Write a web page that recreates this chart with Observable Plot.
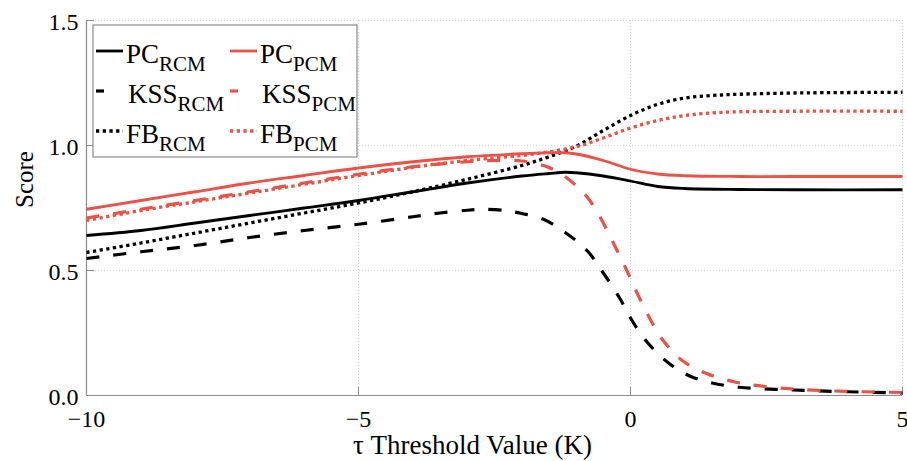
<!DOCTYPE html>
<html><head><meta charset="utf-8">
<script src="https://cdn.jsdelivr.net/npm/d3@7"></script>
<script src="https://cdn.jsdelivr.net/npm/@observablehq/plot@0.6"></script>
<style>body{margin:0;background:#fff}#chart{position:relative;width:907px;height:461px}</style>
</head><body><div id="chart"></div>
<script>
// ---- data ----
const pcRcmX  = [-10,-9,-8,-7,-6,-5,-4,-3,-2,-1.5,-1.2,-1,-0.5,0,0.5,1,2,3,5];
const pcRcmY  = [0.64,0.66,0.69,0.72,0.75,0.78,0.815,0.85,0.878,0.888,0.893,0.891,0.878,0.858,0.836,0.828,0.824,0.823,0.823];
const pcPcmX  = [-10,-9,-8,-7,-6,-5,-4,-3,-2,-1.5,-1.2,-1,-0.5,0,0.5,1,2,3,5];
const pcPcmY  = [0.745,0.78,0.815,0.85,0.88,0.91,0.935,0.955,0.967,0.971,0.971,0.966,0.94,0.905,0.886,0.879,0.876,0.876,0.876];
const kssRcmX = [-10,-9,-8,-7,-6,-5,-4,-3.5,-3,-2.7,-2.3,-2,-1.6,-1.2,-0.8,-0.5,-0.2,0,0.3,0.7,1.1,1.5,2,3,4,5];
const kssRcmY = [0.548,0.575,0.6,0.632,0.66,0.685,0.715,0.73,0.741,0.745,0.74,0.728,0.705,0.652,0.58,0.49,0.39,0.31,0.215,0.13,0.077,0.05,0.033,0.022,0.015,0.01];
const kssPcmX = [-10,-9,-8,-7,-6,-5,-4,-3,-2.5,-2,-1.6,-1.3,-1,-0.8,-0.6,-0.35,-0.1,0.1,0.35,0.6,0.95,1.4,1.9,2.5,3.5,5];
const kssPcmY = [0.71,0.745,0.78,0.815,0.85,0.885,0.915,0.935,0.94,0.938,0.92,0.89,0.84,0.795,0.73,0.625,0.515,0.42,0.31,0.22,0.14,0.088,0.055,0.035,0.02,0.012];
const fbRcmX  = [-10,-9,-8,-7,-6,-5,-4,-3,-2,-1.5,-1,-0.5,0,0.5,1,1.5,2,3,5];
const fbRcmY  = [0.572,0.61,0.65,0.69,0.73,0.77,0.815,0.865,0.92,0.955,0.997,1.06,1.12,1.165,1.19,1.2,1.205,1.21,1.213];
const fbPcmX  = [-10,-9,-8,-7,-6,-5,-4,-3,-2,-1.5,-1,-0.5,0,0.5,1,1.5,2,3,5];
const fbPcmY  = [0.70,0.74,0.775,0.81,0.845,0.88,0.913,0.94,0.96,0.975,0.995,1.03,1.07,1.1,1.12,1.13,1.135,1.137,1.137];

const metrics = ["PC","KSS","FB"];
const models  = ["RCM","PCM"];
const xTicks  = [-10,-5,0,5];
const yTicks  = [0,0.5,1.0,1.5];
const xLabel  = "τ Threshold Value (K)";
const yLabel  = "Score";

// ---- styles ----
const colors = {RCM: "#000000", PCM: "#ec5146"};
const dashes = {PC: null, KSS: "13,14", FB: "3.3,3.4"};
const widths = {PC: 2.8, KSS: 3.2, FB: 3.3};
const gray = "#8c8c8c";
const font = "Liberation Serif";

const seriesData = {
  PC_RCM: [pcRcmX, pcRcmY], PC_PCM: [pcPcmX, pcPcmY],
  KSS_RCM: [kssRcmX, kssRcmY], KSS_PCM: [kssPcmX, kssPcmY],
  FB_RCM: [fbRcmX, fbRcmY], FB_PCM: [fbPcmX, fbPcmY]
};

const lineMarks = [];
for (const model of models) for (const metric of metrics) {
  const [xs, ys] = seriesData[metric + "_" + model];
  const rows = xs.map((x, i) => ({x, y: ys[i]}));
  lineMarks.push(Plot.line(rows, {
    x: "x", y: "y", curve: "catmull-rom",
    stroke: colors[model], strokeWidth: widths[metric],
    strokeDasharray: dashes[metric], strokeLinecap: "butt"
  }));
}

const W = 907, H = 461, mL = 86, mR = 5, mT = 20, mB = 66;
const plotW = W - mL - mR, plotH = H - mT - mB;

const chart = Plot.plot({
  width: W, height: H,
  marginLeft: mL, marginRight: mR, marginTop: mT, marginBottom: mB,
  x: {domain: [-10, 5]},
  y: {domain: [0, 1.5]},
  style: {fontFamily: font, background: "#fff", color: "#000", overflow: "visible"},
  marks: [
    Plot.gridX(xTicks.slice(1), {stroke: "#d4d4d4", strokeOpacity: 1, strokeDasharray: "1,2"}),
    Plot.gridY(yTicks.slice(1), {stroke: "#d4d4d4", strokeOpacity: 1, strokeDasharray: "1,2"}),
    Plot.ruleX([xTicks[0]], {stroke: gray, strokeWidth: 1.2}),
    Plot.ruleY([yTicks[0]], {stroke: gray, strokeWidth: 1.2}),
    Plot.tickX(xTicks, {x: d => d, stroke: gray, insetTop: plotH - 8}),
    Plot.tickY(yTicks, {y: d => d, stroke: gray, insetRight: plotW - 8}),
    Plot.axisX(xTicks, {tickSize: 0, tickPadding: 14, fontSize: 24, label: null}),
    Plot.axisY(yTicks, {tickSize: 0, tickPadding: 8, fontSize: 24, dy: 2, tickFormat: d3.format(".1f"), label: null}),
    ...lineMarks,
    Plot.text([xLabel], {frameAnchor: "bottom", dy: 58, dx: -22, fontSize: 27, text: d => d}),
    Plot.text([yLabel], {frameAnchor: "left", dx: -62, rotate: -90, fontSize: 25, text: d => d})
  ]
});

document.getElementById("chart").appendChild(chart);

// ---- legend inside the plot (top-left) ----
const svg = d3.select(chart);
const lg = svg.append("g").attr("font-family", font).attr("text-anchor", "start");
lg.append("rect").attr("x", 93).attr("y", 25).attr("width", 264).attr("height", 132)
  .attr("fill", "#fff").attr("stroke", gray).attr("stroke-width", 1.2);
const rowBase = [63, 103, 143];
const colX = [96, 230];
metrics.forEach((metric, r) => {
  models.forEach((model, c) => {
    const x0 = colX[c], yb = rowBase[r];
    const ly = yb - 12;
    const len = metric === "KSS" ? 8 : 27;
    lg.append("line").attr("x1", x0).attr("x2", x0 + len).attr("y1", ly).attr("y2", ly)
      .attr("stroke", colors[model]).attr("stroke-width", widths[metric])
      .attr("stroke-dasharray", metric === "FB" ? "3.3,3.4" : null);
    const t = lg.append("text").attr("x", x0 + (metric === "KSS" ? 32 : 30)).attr("y", yb)
      .attr("text-anchor", "start").attr("font-size", 27).attr("fill", "#000");
    t.append("tspan").text(metric);
    t.append("tspan").attr("font-size", 21).attr("dy", 8).text(model);
  });
});
</script>
</body></html>
